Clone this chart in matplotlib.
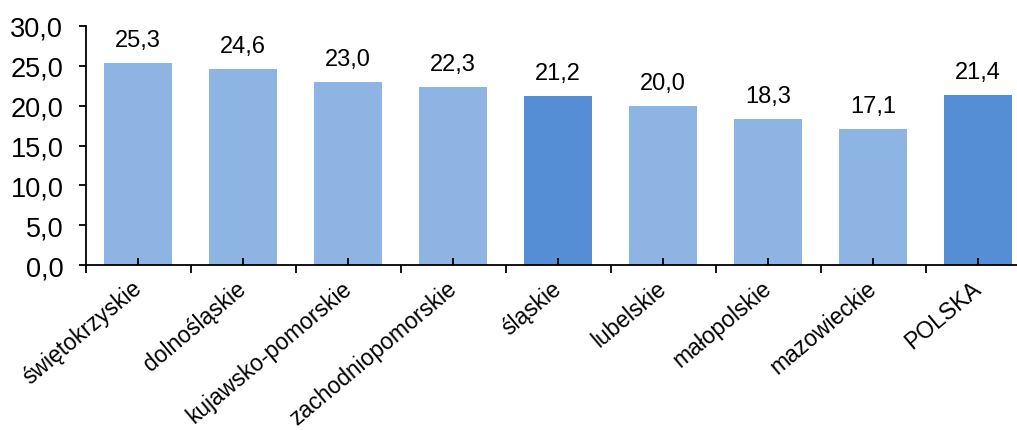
import matplotlib.pyplot as plt
import matplotlib.transforms as mtransforms
import numpy as np

regions = ["świętokrzyskie", "dolnośląskie", "kujawsko-pomorskie", "zachodniopomorskie",
           "śląskie", "lubelskie", "małopolskie", "mazowieckie", "POLSKA"]
values = [25.3, 24.6, 23.0, 22.3, 21.2, 20.0, 18.3, 17.1, 21.4]
highlight = ["śląskie", "POLSKA"]

plt.rcParams['font.family'] = ['Liberation Sans', 'DejaVu Sans']

fig = plt.figure(figsize=(10.17, 4.31), dpi=100)
ax = fig.add_axes([85.5 / 1017, 165 / 431, (1017 - 85.5) / 1017, (266 - 27) / 431])

x = np.arange(len(regions))
colors = ["#558ED5" if r in highlight else "#8EB4E3" for r in regions]
bars = ax.bar(x, values, width=0.65, color=colors)

for xi, v in zip(x, values):
    ax.text(xi, v + 1.5, f"{v:.1f}".replace(".", ","), ha="center", va="bottom", fontsize=17)

ax.set_ylim(0, 30)
ax.set_xlim(-0.5, (1017 - 85.5) / 105 - 0.5)
ax.set_yticks(np.arange(0, 31, 5))
ax.set_yticklabels([f"{t:.1f}".replace(".", ",") for t in np.arange(0, 31, 5)], fontsize=19.5)

ax.set_xticks(x - 0.5)
ax.set_xticklabels([])
ax.set_xticks(x, minor=True)
ax.set_xticklabels(regions, minor=True, rotation=40, ha="right", va="top",
                   rotation_mode="anchor", fontsize=16.5)
ax.tick_params(axis="x", which="major", direction="out", length=6, width=1.3)
ax.tick_params(axis="x", which="minor", direction="in", length=5, width=1.3, pad=8)
ax.tick_params(axis="y", direction="out", length=5, width=1.3, pad=11)

# nudge rotated labels a bit to the left so they end at the bar centre
shift = mtransforms.ScaledTranslation(-7 / 100, 0, fig.dpi_scale_trans)
for lbl in ax.get_xticklabels(minor=True):
    lbl.set_transform(lbl.get_transform() + shift)

for s in ["top", "right"]:
    ax.spines[s].set_visible(False)
ax.spines["left"].set_linewidth(1.3)
ax.spines["bottom"].set_linewidth(1.3)

fig.savefig("out.png", dpi=100)
